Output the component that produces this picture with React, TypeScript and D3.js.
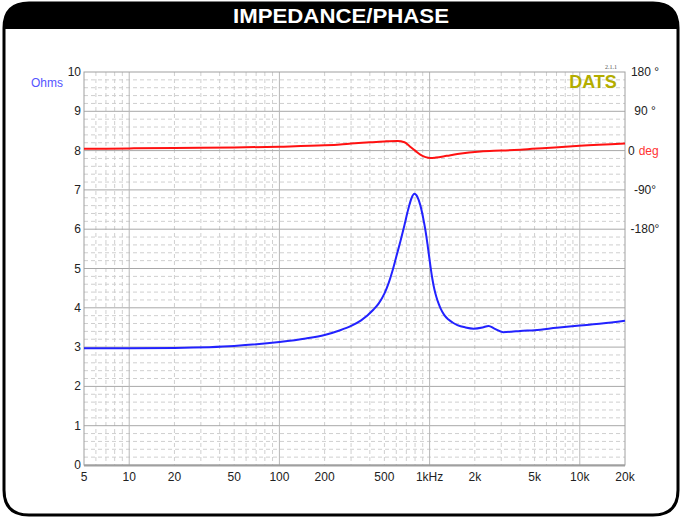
import React from "react";
import * as d3 from "d3";

// impedance curve (Hz, ohms)
const zFreq = [5, 10, 20, 50, 100, 150, 200, 254, 300, 350, 422, 460, 500, 535, 565, 600, 640, 680, 720, 760, 792, 830, 869, 910, 940, 968, 995, 1020, 1045, 1075, 1111, 1150, 1185, 1250, 1336, 1430, 1530, 1734, 1966, 2250, 2470, 2700, 3094, 3500, 4000, 5000, 7000, 10000, 14000, 20000];
const zOhms = [2.97, 2.97, 2.98, 3.03, 3.13, 3.22, 3.31, 3.43, 3.54, 3.68, 3.95, 4.12, 4.36, 4.64, 4.93, 5.3, 5.7, 6.1, 6.5, 6.8, 6.9, 6.82, 6.6, 6.25, 5.95, 5.62, 5.28, 4.98, 4.72, 4.48, 4.27, 4.1, 3.98, 3.82, 3.7, 3.62, 3.56, 3.5, 3.47, 3.5, 3.54, 3.47, 3.38, 3.39, 3.41, 3.43, 3.49, 3.55, 3.6, 3.67];

// phase curve (Hz, degrees)
const pFreq = [5, 10, 20, 50, 100, 200, 254, 300, 400, 500, 611, 680, 742, 800, 872, 940, 1010, 1100, 1300, 1530, 2185, 3000, 4030, 6000, 10000, 20000];
const pDeg = [4, 5, 6, 7, 9, 12, 14, 16, 19, 21, 22, 19, 9, 0, -10, -15, -17, -16, -12, -8, -2, 0, 2, 6, 11, 16];

const xTicks = [5, 10, 20, 50, 100, 200, 500, 1000, 2000, 5000, 10000, 20000];
const xTickLabels = ["5", "10", "20", "50", "100", "200", "500", "1kHz", "2k", "5k", "10k", "20k"];
const yTicks = [0, 1, 2, 3, 4, 5, 6, 7, 8, 9, 10];
const phaseTicks = [180, 90, 0, -90, -180];
const phaseLabels = ["180 °", "90 °", "0", "-90°", "-180°"];

const W = 682, H = 518;
const m = { left: 84, right: 625, top: 72, bottom: 465 };
const font = "'Liberation Sans', Arial, sans-serif";

export default function App() {
  const x = d3.scaleLog().domain([5, 20000]).range([m.left, m.right]);
  const y = d3.scaleLinear().domain([0, 10]).range([m.bottom, m.top]);
  // phase shares the grid: 0 deg at 8 ohms, 90 deg per ohm
  const yp = d3.scaleLinear().domain([-180, 180]).range([y(6), y(10)]);

  const line = d3.line<[number, number]>().x(d => d[0]).y(d => d[1]).curve(d3.curveMonotoneX);
  const zPath = line(zFreq.map((f, i) => [x(f), y(zOhms[i])]));
  const pPath = line(pFreq.map((f, i) => [x(f), yp(pDeg[i])]));

  const minorX: number[] = [];
  for (let dec = 1; dec <= 10000; dec *= 10) {
    for (let k = 2; k < 10; k++) {
      const f = dec * k;
      if (f > 5 && f < 20000) minorX.push(f);
    }
  }
  const majorX = [10, 100, 1000, 10000];
  const minorY = d3.range(0, 10.01, 0.2).filter(v => Math.abs(v - Math.round(v)) > 0.01);

  const framePath = "M4,30 L4,28 Q4,3 29,3 L653,3 Q678,3 678,28 L678,490 Q678,515 653,515 L29,515 Q4,515 4,490 Z";

  return (
    <svg width={W} height={H} style={{ position: "absolute", left: 0, top: 0, background: "#fff" }} fontFamily={font}>
      <defs>
        <clipPath id="frame"><path d={framePath} /></clipPath>
      </defs>
      <rect x={0} y={0} width={W} height={29} fill="#000" clipPath="url(#frame)" />
      <path d={framePath} fill="none" stroke="#000" strokeWidth={3} />
      <text x={341} y={23} textAnchor="middle" fill="#fff" fontSize={21} fontWeight="bold" textLength={216} lengthAdjust="spacingAndGlyphs">IMPEDANCE/PHASE</text>

      <g>
        {minorY.map(v => (
          <line key={"my" + v} x1={m.left} x2={m.right} y1={y(v)} y2={y(v)} stroke="#cfcfcf" strokeDasharray="4,3" />
        ))}
        {minorX.map(f => (
          <line key={"mx" + f} x1={x(f)} x2={x(f)} y1={m.top} y2={m.bottom} stroke="#cfcfcf" strokeDasharray="4,3" />
        ))}
        {yTicks.slice(1, -1).map(v => (
          <line key={"gy" + v} x1={m.left} x2={m.right} y1={y(v)} y2={y(v)} stroke="#a8a8a8" />
        ))}
        {majorX.map(f => (
          <line key={"gx" + f} x1={x(f)} x2={x(f)} y1={m.top} y2={m.bottom} stroke="#b8b8b8" />
        ))}
        <rect x={m.left} y={m.top} width={m.right - m.left} height={m.bottom - m.top} fill="none" stroke="#a0a0a0" />
        <line x1={m.left} x2={m.right} y1={m.bottom + 0.5} y2={m.bottom + 0.5} stroke="#a0a0a0" strokeWidth={2} />
      </g>

      {yTicks.map(v => (
        <text key={"yl" + v} x={m.left - 3} y={y(v) + 4} textAnchor="end" fontSize={12} fill="#222">{v}</text>
      ))}
      {xTicks.map((f, i) => (
        <text key={"xl" + f} x={x(f)} y={m.bottom + 16} textAnchor="middle" fontSize={12} fill="#222">{xTickLabels[i]}</text>
      ))}
      {phaseTicks.map((p, i) => (
        <text key={"pl" + p} x={p === 0 ? 628 : 645} y={yp(p) + 4} textAnchor={p === 0 ? "start" : "middle"} fontSize={12} fill="#222">
          {phaseLabels[i]}
          {p === 0 && <tspan fill="#ff3333" dx={4}>deg</tspan>}
        </text>
      ))}
      <text x={47} y={87} textAnchor="middle" fontSize={12} fill="#5555ff">Ohms</text>

      <text x={593} y={88} textAnchor="middle" fontSize={18} fontWeight="bold" fill="#b3ad00">DATS</text>
      <text x={611} y={69} textAnchor="middle" fontSize={6} fill="#555" fontFamily="'Liberation Serif', serif">2.1.1</text>

      <path d={pPath || ""} fill="none" stroke="#ff1111" strokeWidth={2} />
      <path d={zPath || ""} fill="none" stroke="#2222ff" strokeWidth={2} />
    </svg>
  );
}
